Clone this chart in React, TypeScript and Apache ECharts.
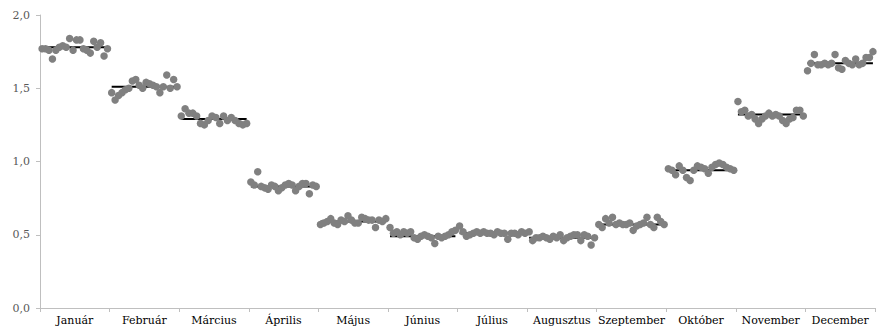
import React, { useEffect, useRef } from "react";
import * as echarts from "echarts";

const months = ["Január", "Február", "Március", "Április", "Május", "Június", "Július", "Augusztus", "Szeptember", "Október", "November", "December"];

const jan = [1.77, 1.77, 1.76, 1.70, 1.76, 1.78, 1.79, 1.78, 1.84, 1.76, 1.83, 1.83, 1.77, 1.76, 1.74, 1.82, 1.78, 1.81, 1.72, 1.77];
const feb = [1.47, 1.42, 1.45, 1.47, 1.49, 1.50, 1.55, 1.56, 1.52, 1.50, 1.54, 1.53, 1.52, 1.51, 1.47, 1.51, 1.59, 1.50, 1.56, 1.51];
const mar = [1.31, 1.36, 1.33, 1.33, 1.31, 1.26, 1.25, 1.28, 1.31, 1.30, 1.26, 1.31, 1.28, 1.30, 1.28, 1.26, 1.25, 1.26];
const apr = [0.86, 0.84, 0.93, 0.83, 0.82, 0.81, 0.84, 0.83, 0.80, 0.82, 0.84, 0.85, 0.84, 0.80, 0.83, 0.85, 0.85, 0.78, 0.84, 0.83];
const may = [0.57, 0.58, 0.59, 0.61, 0.58, 0.57, 0.60, 0.59, 0.63, 0.60, 0.58, 0.58, 0.62, 0.61, 0.60, 0.60, 0.55, 0.60, 0.59, 0.61];
const jun = [0.55, 0.51, 0.52, 0.50, 0.52, 0.51, 0.52, 0.48, 0.47, 0.49, 0.50, 0.49, 0.48, 0.44, 0.49, 0.48, 0.49, 0.50, 0.52, 0.53];
const jul = [0.56, 0.52, 0.49, 0.50, 0.51, 0.52, 0.51, 0.52, 0.51, 0.51, 0.50, 0.52, 0.51, 0.51, 0.47, 0.51, 0.51, 0.50, 0.52, 0.51];
const aug = [0.52, 0.46, 0.48, 0.48, 0.49, 0.48, 0.47, 0.49, 0.48, 0.50, 0.46, 0.48, 0.49, 0.50, 0.50, 0.46, 0.50, 0.49, 0.43, 0.48];
const sep = [0.57, 0.55, 0.61, 0.58, 0.62, 0.57, 0.58, 0.57, 0.57, 0.58, 0.53, 0.56, 0.57, 0.58, 0.62, 0.57, 0.55, 0.62, 0.59, 0.57];
const oct = [0.95, 0.94, 0.91, 0.97, 0.94, 0.89, 0.87, 0.94, 0.97, 0.96, 0.95, 0.92, 0.96, 0.98, 0.99, 0.98, 0.96, 0.95, 0.94];
const nov = [1.41, 1.34, 1.35, 1.31, 1.32, 1.29, 1.26, 1.29, 1.31, 1.33, 1.31, 1.32, 1.31, 1.28, 1.26, 1.29, 1.30, 1.35, 1.35, 1.31];
const dec = [1.62, 1.67, 1.73, 1.66, 1.66, 1.67, 1.66, 1.67, 1.73, 1.64, 1.63, 1.69, 1.67, 1.66, 1.70, 1.66, 1.67, 1.71, 1.71, 1.75];

const monthValues = [jan, feb, mar, apr, may, jun, jul, aug, sep, oct, nov, dec];
const monthMeans = [1.78, 1.51, 1.29, 0.83, 0.59, 0.49, 0.51, 0.48, 0.57, 0.94, 1.32, 1.67];

const yTicks = [0, 0.5, 1.0, 1.5, 2.0];

export default function App() {
  const ref = useRef<HTMLDivElement>(null);
  useEffect(() => {
    if (!ref.current) return;
    const chart = echarts.init(ref.current, undefined, { renderer: "svg" });
    const font = "DejaVu Serif";

    const scatterData: number[][] = [];
    monthValues.forEach((vals, m) => {
      const n = vals.length;
      vals.forEach((v, j) => {
        scatterData.push([m + 0.03 + (j * 0.94) / (n - 1), v]);
      });
    });

    const lineSeries = monthMeans.map((mean, m) => ({
      type: "line",
      xAxisIndex: 1,
      yAxisIndex: 0,
      data: [[m + 0.03, mean], [m + 0.97, mean]],
      showSymbol: false,
      symbol: "none",
      lineStyle: { color: "#000000", width: 2 },
      z: 2,
      silent: true,
    }));

    chart.setOption({
      animation: false,
      backgroundColor: "#ffffff",
      textStyle: { fontFamily: font },
      grid: { left: 40, right: 2, top: 15, bottom: 20, containLabel: false },
      xAxis: [
        {
          type: "category",
          data: months,
          boundaryGap: true,
          axisLine: { lineStyle: { color: "#bfbfbf", width: 1 } },
          axisTick: { show: true, alignWithLabel: false, length: 4, inside: false, lineStyle: { color: "#bfbfbf" } },
          axisLabel: { color: "#000000", fontFamily: font, fontSize: 11, margin: 7, interval: 0 },
          splitLine: { show: false },
        },
        {
          type: "value",
          min: 0,
          max: 12,
          show: false,
          splitLine: { show: false },
        },
      ],
      yAxis: {
        type: "value",
        min: yTicks[0],
        max: yTicks[yTicks.length - 1],
        interval: 0.5,
        axisLine: { show: true, lineStyle: { color: "#bfbfbf", width: 1 } },
        axisTick: { show: true, length: 4, lineStyle: { color: "#bfbfbf" } },
        splitLine: { show: false },
        axisLabel: {
          color: "#595959",
          fontFamily: font,
          fontSize: 11,
          margin: 10,
          formatter: (v: number) => v.toFixed(1).replace(".", ","),
        },
      },
      series: [
        ...lineSeries,
        {
          type: "scatter",
          xAxisIndex: 1,
          yAxisIndex: 0,
          data: scatterData,
          symbol: "circle",
          symbolSize: 7.5,
          itemStyle: { color: "#808080", opacity: 1 },
          z: 3,
        },
      ],
    });
    return () => chart.dispose();
  }, []);
  return <div ref={ref} style={{ position: "absolute", left: 0, top: 0, width: 877, height: 328 }} />;
}
